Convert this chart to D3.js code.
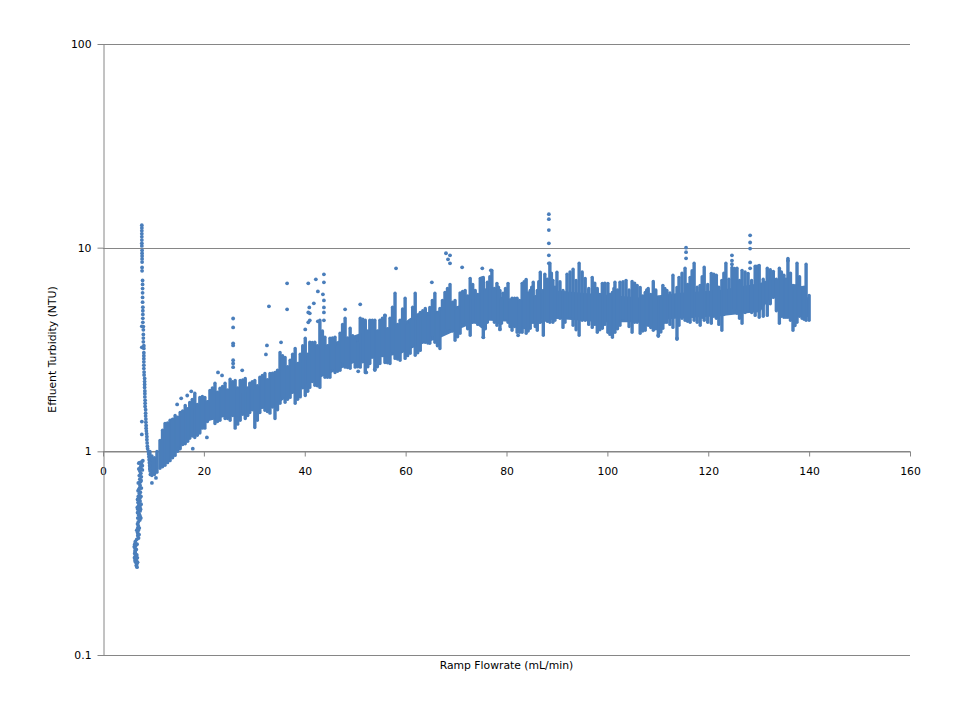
<!DOCTYPE html>
<meta charset="utf-8">
<style>
  body { margin: 0; background: #fff; }
  text { font-family: "DejaVu Sans", sans-serif; font-size: 10.8px; fill: #000; }
</style>
<script src="https://d3js.org/d3.v7.min.js"></script>
<div id="chart"></div>
<script>
var xTicks = [0, 20, 40, 60, 80, 100, 120, 140, 160];
var yTicks = [0.1, 1, 10, 100];

// The dense band holds thousands of samples that cannot be read one by one,
// so it is kept as the vertical extent at each flowrate.
var bandFlow = [9.3, 9.7, 10.2, 10.7, 11.3, 11.8, 12.3, 13.3, 14.3, 15.3, 16.3, 17.2, 18.2, 19.2, 20.2, 21.2, 22.2, 23.2, 24.2, 25.2,
  26.2, 27.2, 28.2, 29.1, 30.1, 31.1, 32.1, 33.1, 34.1, 35.1, 36.1, 37.1, 38.1, 39.1, 40.1, 41.0, 42.0, 43.0, 44.0, 45.0,
  46.0, 47.0, 48.0, 49.0, 50.0, 51.0, 52.0, 52.9, 53.9, 54.9, 55.9, 56.9, 57.9, 58.9, 59.9, 60.9, 61.9, 62.9, 63.9, 64.8,
  65.8, 66.8, 67.8, 68.8, 69.8, 70.8, 71.8, 72.8, 73.8, 74.8, 75.4, 76.2, 77.1, 78.1, 78.7, 79.3, 80.3, 81.1, 82.1, 83.1,
  83.9, 84.7, 85.3, 86.1, 86.7, 87.3, 87.6, 88.6, 89.2, 90.0, 91.2, 92.0, 93.2, 94.4, 95.6, 97.0, 98.0, 99.0, 100.1, 101.0,
  101.5, 102.5, 103.7, 104.9, 105.9, 106.5, 107.5, 108.1, 109.1, 110.1, 111.0, 111.8, 113.0, 113.8, 114.2, 115.4, 116.4, 117.2, 118.4, 119.2,
  120.6, 121.6, 122.7, 123.5, 124.7, 125.7, 126.7, 127.9, 129.3, 130.1, 131.7, 132.9, 134.1, 135.0, 135.8, 136.8, 137.6, 138.6, 139.4, 140.0];
var bandHigh = [1.0, 0.95, 0.93, 1.0, 1.13, 1.27, 1.37, 1.42, 1.50, 1.55, 1.68, 1.74, 1.93, 1.84, 1.84, 1.99, 2.16, 2.04, 2.16, 2.26,
  2.23, 2.23, 2.28, 2.16, 2.23, 2.31, 2.41, 2.41, 2.44, 3.06, 2.89, 2.80, 3.20, 3.0, 3.59, 3.43, 3.43, 4.40, 3.63, 3.59,
  3.63, 3.80, 4.50, 4.02, 3.51, 4.50, 4.40, 4.40, 4.40, 4.40, 4.65, 4.50, 5.97, 4.40, 5.64, 4.40, 5.97, 4.81, 5.03, 5.09,
  5.97, 5.03, 6.03, 6.60, 5.51, 6.0, 6.17, 7.07, 6.17, 7.07, 7.15, 6.76, 7.74, 6.68, 6.17, 5.97, 6.68, 5.64, 5.64, 6.68,
  6.99, 6.17, 6.76, 6.17, 7.57, 6.17, 7.40, 8.38, 6.91, 7.57, 6.17, 7.40, 7.83, 8.38, 7.07, 7.15, 6.31, 6.68, 6.68, 6.03,
  6.76, 6.76, 6.91, 6.83, 6.53, 6.38, 6.03, 6.31, 6.83, 5.70, 6.53, 6.17, 7.32, 6.38, 7.15, 7.92, 7.15, 8.38, 6.53, 8.01,
  7.48, 7.32, 6.91, 8.38, 8.0, 7.92, 7.74, 7.48, 8.10, 8.19, 7.92, 7.65, 7.92, 7.32, 8.86, 6.53, 8.38, 6.38, 8.29, 5.83];
var bandLow = [0.82, 0.76, 0.77, 0.79, 0.825, 0.84, 0.854, 0.90, 0.955, 1.03, 1.09, 1.16, 1.17, 1.23, 1.30, 1.45, 1.37, 1.42, 1.45, 1.42,
  1.30, 1.42, 1.45, 1.55, 1.31, 1.55, 1.59, 1.54, 1.45, 1.72, 1.74, 1.84, 1.72, 1.85, 1.88, 2.06, 2.11, 2.06, 2.31, 2.31,
  2.44, 2.50, 2.59, 2.56, 2.59, 2.59, 2.44, 2.70, 2.50, 2.70, 2.73, 2.70, 2.86, 2.80, 2.86, 3.03, 2.96, 3.13, 3.43, 3.39,
  3.43, 3.20, 3.93, 4.02, 3.51, 3.80, 4.40, 3.71, 4.30, 4.16, 3.63, 4.30, 4.50, 4.16, 4.02, 4.50, 4.30, 3.93, 3.84, 3.84,
  3.80, 4.02, 4.30, 3.93, 4.30, 3.71, 4.40, 4.30, 4.30, 4.55, 4.06, 4.55, 4.16, 3.71, 4.40, 4.06, 3.84, 4.02, 3.84, 3.63,
  3.84, 4.16, 4.40, 3.84, 4.30, 3.80, 3.93, 4.16, 3.93, 3.67, 4.02, 4.30, 4.06, 3.55, 4.16, 4.40, 4.30, 4.40, 4.16, 4.40,
  4.25, 4.50, 3.93, 4.92, 4.81, 4.76, 4.25, 4.92, 4.65, 4.55, 4.65, 5.70, 4.25, 4.55, 4.55, 3.93, 4.30, 4.50, 4.40, 4.40];

// columns between the ones above
var fillFlow = [12.8, 13.8, 14.8, 15.8, 16.8, 17.7, 18.7, 19.7, 20.7, 21.7,
  22.7, 23.7, 24.7, 25.7, 26.7, 27.7, 28.7, 29.6, 30.6, 31.6,
  32.6, 33.6, 34.6, 35.6, 36.6, 37.6, 38.6, 39.6, 40.6, 41.5,
  42.5, 43.5, 44.5, 45.5, 46.5, 47.5, 48.5, 49.5, 50.5, 51.5,
  52.5, 53.4, 54.4, 55.4, 56.4, 57.4, 58.4, 59.4, 60.4, 61.4,
  62.4, 63.4, 64.4, 65.3, 66.3, 67.3, 68.3, 69.3, 70.3, 71.3,
  72.3, 73.3, 74.3, 75.1, 75.8, 76.7, 77.6, 78.4, 79.0, 79.8,
  80.7, 81.6, 82.6, 83.5, 84.3, 85.0, 85.7, 86.4, 88.1, 88.9,
  89.6, 90.6, 91.6, 92.6, 93.8, 95.0, 96.3, 97.5, 98.5, 99.5,
  100.5, 101.3, 102.0, 103.1, 104.3, 105.4, 107.0, 107.8, 108.6, 109.6,
  110.6, 111.4, 112.4, 114.8, 115.9, 116.8, 117.8, 118.8, 119.9, 121.1,
  122.1, 123.1, 124.1, 125.2, 126.2, 127.3, 128.6, 129.7, 130.9, 132.3,
  133.5, 134.5, 135.4, 136.3, 137.2, 138.1, 139.0];
var fillHigh = [1.38, 1.44, 1.47, 1.58, 1.62, 1.80, 1.70, 1.86, 1.75, 2.05,
  1.95, 2.08, 2.0, 2.20, 2.05, 2.24, 2.05, 2.20, 2.1, 2.36,
  2.25, 2.42, 2.5, 2.95, 2.6, 3.0, 2.7, 3.3, 3.0, 3.42,
  3.3, 3.9, 3.3, 3.6, 3.3, 4.2, 3.6, 3.7, 3.4, 4.45,
  3.9, 4.4, 3.9, 4.5, 4.0, 5.1, 4.2, 5.0, 4.2, 5.1,
  4.5, 4.9, 4.6, 5.5, 4.7, 5.5, 6.3, 5.4, 5.0, 6.1,
  5.8, 6.6, 5.9, 7.1, 6.2, 7.2, 6.3, 6.4, 5.6, 6.3,
  5.5, 5.65, 5.5, 6.8, 6.0, 6.4, 5.7, 6.8, 7.0, 7.5,
  6.4, 6.8, 6.0, 7.6, 6.9, 7.6, 6.3, 6.7, 5.9, 6.7,
  5.9, 6.3, 6.2, 6.8, 6.2, 6.7, 5.8, 6.2, 5.9, 6.2,
  5.6, 6.3, 6.0, 7.5, 6.6, 7.7, 6.4, 7.2, 6.6, 7.4,
  6.4, 7.5, 7.0, 7.9, 6.9, 7.6, 6.9, 8.1, 7.0, 7.8,
  7.0, 7.6, 7.0, 7.5, 6.5, 7.2, 6.4];
var fillLow = [0.88, 0.93, 1.0, 1.08, 1.12, 1.19, 1.2, 1.3, 1.4, 1.46,
  1.4, 1.5, 1.45, 1.5, 1.36, 1.52, 1.5, 1.6, 1.42, 1.65,
  1.57, 1.65, 1.6, 1.85, 1.8, 1.95, 1.8, 2.05, 1.97, 2.2,
  2.1, 2.4, 2.31, 2.55, 2.47, 2.75, 2.58, 2.8, 2.6, 2.75,
  2.6, 2.9, 2.6, 2.95, 2.72, 3.1, 2.84, 3.15, 2.95, 3.3,
  3.05, 3.5, 3.4, 3.7, 3.3, 3.9, 4.0, 3.9, 3.65, 4.3,
  4.0, 4.3, 4.2, 4.1, 4.0, 4.5, 4.3, 4.3, 4.25, 4.5,
  4.1, 4.1, 3.84, 4.05, 3.9, 4.3, 4.1, 4.3, 4.35, 4.5,
  4.4, 4.5, 4.3, 4.6, 3.95, 4.4, 4.2, 4.2, 3.95, 4.2,
  3.75, 4.0, 4.0, 4.5, 4.1, 4.3, 3.9, 4.2, 4.05, 4.0,
  3.85, 4.3, 4.2, 4.5, 4.35, 4.6, 4.3, 4.55, 4.3, 4.6,
  4.2, 4.7, 4.85, 5.0, 4.5, 4.8, 4.8, 4.9, 4.6, 5.3,
  4.9, 4.6, 4.55, 4.4, 4.15, 4.6, 4.45];

// solid middle of the band
var coreFlow = [11.9, 13.9, 17.2, 20.6, 27.2, 33.7, 39.1, 43.0, 51.0, 58.9, 62.3, 66.8, 70.8, 74.8, 82.7, 88.6, 98.6, 106.5, 114.4, 122.3, 130.3, 132.7, 136.2, 139.8];
var coreHigh = [1.16, 1.34, 1.59, 1.78, 1.93, 2.11, 2.80, 3.24, 3.80, 4.16, 4.76, 4.92, 5.21, 6.0, 5.51, 6.2, 5.9, 5.7, 6.0, 6.2, 6.7, 7.1, 6.2, 5.7];
var coreLow = [0.854, 0.98, 1.2, 1.4, 1.55, 1.65, 2.05, 2.3, 2.8, 3.0, 3.3, 3.6, 4.0, 4.4, 4.3, 4.5, 4.3, 4.3, 4.5, 4.6, 4.85, 5.83, 4.75, 4.55];

// start of the ramp, the turbidity spike and its fall
var rampFlow = [6.4, 6.3, 6.5, 6.35, 6.6, 6.4, 6.3, 6.55, 6.4, 6.6, 6.45, 6.65, 6.5, 6.7, 6.6, 6.75, 6.55, 6.35, 6.7,
  6.2, 6.75, 6.25, 6.8, 6.35, 6.85,
  7.5, 7.3, 7.0, 6.85, 7.0, 6.9, 7.0, 6.85, 7.0, 6.9, 7.05, 7.2, 6.7, 7.15, 6.7,
  7.9, 7.7, 7.3, 7.1, 7.8, 7.5, 7.8, 7.3, 7.5, 7.2, 7.6, 7.3, 7.45, 7.2, 7.35, 7.25, 7.1, 7.4, 7.2, 7.0, 7.3, 7.1, 7.35, 6.95, 7.2, 7.05, 7.3, 6.9, 7.15, 7.35, 7.0, 7.2, 7.1, 7.4, 7.45,
  7.6, 7.45, 7.1, 7.55, 7.0, 7.6, 6.95, 7.5, 6.85, 7.55, 6.8, 7.45, 6.85, 7.35, 6.9,
  7.7, 7.7, 7.7, 7.7, 7.7, 7.7, 7.7, 7.7, 7.75, 7.75, 7.75, 7.75, 7.75, 7.75, 7.75,
  7.85, 7.85, 7.85, 7.85, 7.85, 7.85, 7.9, 7.9, 7.9, 7.9, 7.9, 8.0, 8.0, 8.0, 8.0, 8.0,
  8.1, 8.1, 8.1, 8.1, 8.1, 8.1, 8.1, 8.1, 8.15, 8.15, 8.25, 8.25, 8.25, 8.25, 8.3, 8.3, 8.3, 8.35, 8.35, 8.35,
  8.45, 8.45, 8.45, 8.5, 8.5, 8.55, 8.55, 8.6, 8.65, 8.7, 8.7, 8.75, 8.8, 8.85, 9.0, 9.05, 9.1, 9.15, 9.2, 9.25, 9.3, 9.35, 9.4];
var rampNtu = [0.36, 0.35, 0.345, 0.335, 0.33, 0.32, 0.315, 0.31, 0.305, 0.30, 0.295, 0.29, 0.285, 0.28, 0.275, 0.27, 0.30, 0.325, 0.31,
  0.34, 0.35, 0.30, 0.30, 0.29, 0.285,
  0.47, 0.46, 0.45, 0.44, 0.43, 0.42, 0.41, 0.40, 0.39, 0.385, 0.375, 0.42, 0.41, 0.39, 0.37,
  0.90, 0.89, 0.88, 0.875, 0.85, 0.83, 0.81, 0.80, 0.78, 0.76, 0.75, 0.73, 0.71, 0.70, 0.68, 0.66, 0.65, 0.63, 0.62, 0.60, 0.59, 0.58, 0.57, 0.56, 0.55, 0.54, 0.53, 0.52, 0.515, 0.51, 0.50, 0.49, 0.485, 0.545, 0.60,
  0.87, 0.84, 0.82, 0.72, 0.70, 0.66, 0.64, 0.60, 0.58, 0.55, 0.53, 0.52, 0.50, 0.48, 0.47,
  12.9, 12.5, 12.1, 11.7, 11.3, 10.9, 10.5, 10.2, 9.7, 9.4, 9.1, 8.8, 8.5, 8.0, 7.7,
  6.9, 6.6, 6.3, 6.0, 5.7, 5.4, 5.1, 4.9, 4.7, 4.5, 4.3, 4.1, 3.95, 3.75, 3.6, 3.45,
  3.3, 3.2, 3.05, 2.95, 2.85, 2.75, 2.65, 2.55, 2.45, 2.37, 2.28, 2.2, 2.13, 2.06, 1.98, 1.92, 1.85, 1.78, 1.72, 1.66,
  1.6, 1.54, 1.49, 1.44, 1.39, 1.34, 1.3, 1.26, 1.22, 1.18, 1.14, 1.1, 1.06, 1.03, 1.0, 0.97, 0.94, 0.91, 0.88, 0.85, 0.82, 0.80, 0.77];

// single samples lying outside the band
var strayFlow = [25.8, 25.8, 25.8, 25.8, 25.8, 25.8, 25.8, 22.8, 23.6, 27.6, 32.9, 36.5, 36.5, 32.5, 32.3, 35.3, 15.5, 14.7, 17.5, 16.7,
  7.7, 7.7, 7.7, 7.7, 9.7, 10.5, 17.8, 20.6, 14.9,
  40.7, 42.2, 43.8, 43.8, 42.6, 43.6, 43.8, 43.8, 43.8, 43.8, 41.8, 40.9, 40.7, 41.0, 41.0, 40.7, 40.1, 42.6, 48.0, 51.0, 65.2, 55.9,
  68.0, 68.8, 68.4, 68.8, 58.1, 71.2, 75.2, 76.9, 88.4, 88.4, 88.4, 88.4, 88.4, 88.4,
  115.6, 115.6, 115.6, 124.7, 124.7, 124.7, 128.3, 128.3, 128.3, 128.3, 128.3, 113.8, 110.1, 135.8, 78.7, 82.3, 75.4, 50.6, 52.2, 53.9];
var strayNtu = [4.49, 4.06, 3.39, 3.31, 2.80, 2.70, 2.59, 2.44, 2.36, 2.50, 5.15, 6.68, 4.98, 3.31, 2.99, 3.43, 1.82, 1.70, 1.97, 1.88,
  4.11, 3.24, 1.40, 1.21, 0.70, 0.74, 1.03, 1.17, 1.03,
  6.68, 6.99, 7.40, 6.76, 6.10, 5.90, 5.51, 5.09, 4.81, 4.40, 5.33, 5.09, 4.81, 4.76, 4.40, 4.30, 3.97, 4.35, 4.98, 5.27, 6.76, 4.65,
  9.39, 9.17, 8.77, 8.38, 7.92, 8.01, 7.92, 7.74, 14.6, 13.8, 12.2, 10.5, 9.17, 8.38,
  10.0, 9.5, 8.86, 9.17, 8.64, 8.29, 11.5, 10.6, 9.9, 8.46, 7.92, 3.59, 3.71, 8.64, 3.97, 3.71, 3.63, 2.47, 2.44, 2.53];

var margin = {top: 44, right: 50, bottom: 65, left: 103},
    width = 960 - margin.left - margin.right,
    height = 720 - margin.top - margin.bottom;

var dotColor = "#4a7ebb", axisColor = "#868686";

var svg = d3.select("#chart").append("svg")
    .attr("width", 960)
    .attr("height", 720)
  .append("g")
    .attr("transform", "translate(" + margin.left + "," + margin.top + ")");

var x = d3.scaleLinear().domain([0, 160]).range([0, width]);
var y = d3.scaleLog().domain([0.1, 100]).range([height, 0]);

// horizontal grid lines
svg.append("g").selectAll("line")
    .data(yTicks)
    .enter().append("line")
    .attr("x1", 0)
    .attr("x2", width)
    .attr("y1", function(d) { return Math.round(y(d)) + 0.5; })
    .attr("y2", function(d) { return Math.round(y(d)) + 0.5; })
    .attr("stroke", axisColor);

// the x axis crosses at 1 NTU
var xAxis = svg.append("g")
    .attr("transform", "translate(0," + (Math.round(y(1)) + 0.5) + ")")
    .call(d3.axisBottom(x).tickValues(xTicks).tickSize(5).tickSizeOuter(0).tickPadding(11).tickFormat(d3.format("d")));

var yAxis = svg.append("g")
    .attr("transform", "translate(0.5,0)")
    .call(d3.axisLeft(y).tickValues(yTicks).tickSize(6).tickSizeOuter(0).tickPadding(6).tickFormat(function(d) { return d; }));

[xAxis, yAxis].forEach(function(a) {
  a.selectAll("path, line").attr("stroke", axisColor);
  a.selectAll("text").style("font-size", "10.8px");
});

// band
svg.append("path")
    .datum(coreFlow)
    .attr("fill", dotColor)
    .attr("d", d3.area()
        .x(function(d) { return x(d); })
        .y0(function(d, i) { return y(coreLow[i]); })
        .y1(function(d, i) { return y(coreHigh[i]); }));

function columns(flow, low, high) {
  svg.append("g").selectAll("line")
      .data(flow)
      .enter().append("line")
      .attr("x1", function(d) { return x(d); })
      .attr("x2", function(d) { return x(d); })
      .attr("y1", function(d, i) { return y(low[i]); })
      .attr("y2", function(d, i) { return y(high[i]); })
      .attr("stroke", dotColor)
      .attr("stroke-width", 3.4)
      .attr("stroke-linecap", "round");
}
columns(bandFlow, bandLow, bandHigh);
columns(fillFlow, fillLow, fillHigh);

// single points
function dots(flow, ntu) {
  svg.append("g").selectAll("circle")
      .data(flow)
      .enter().append("circle")
      .attr("cx", function(d) { return x(d); })
      .attr("cy", function(d, i) { return y(ntu[i]); })
      .attr("r", 1.9)
      .attr("fill", dotColor);
}
dots(rampFlow, rampNtu);
dots(strayFlow, strayNtu);

// axis titles
svg.append("text")
    .attr("x", width / 2)
    .attr("y", height + 14)
    .attr("text-anchor", "middle")
    .text("Ramp Flowrate (mL/min)");

svg.append("text")
    .attr("transform", "translate(-47," + (height / 2) + ") rotate(-90)")
    .attr("text-anchor", "middle")
    .text("Effluent Turbidity (NTU)");
</script>
